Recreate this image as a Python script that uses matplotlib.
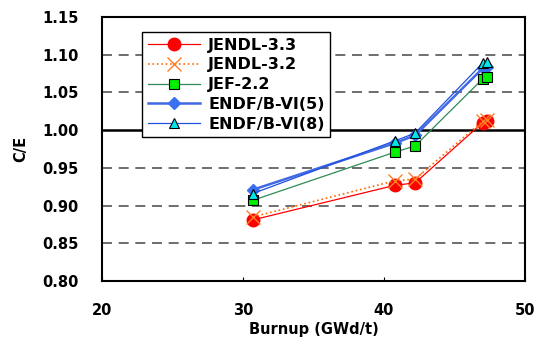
import matplotlib.pyplot as plt

burnup = [30.7, 40.8, 42.2, 47.0, 47.3]

jendl33 = [0.881, 0.927, 0.930, 1.010, 1.012]
jendl32 = [0.885, 0.933, 0.935, 1.012, 1.014]
jef22 = [0.907, 0.971, 0.979, 1.068, 1.070]
endf5 = [0.921, 0.983, 0.993, 1.082, 1.084]
endf8 = [0.916, 0.986, 0.996, 1.089, 1.090]

xticks = [20, 30, 40, 50]
yticks = [0.80, 0.85, 0.90, 0.95, 1.00, 1.05, 1.10, 1.15]

plt.rcParams['font.family'] = ['DejaVu Sans']
plt.rcParams['font.weight'] = 'bold'

fig = plt.figure(figsize=(5.37, 3.45), dpi=100)
ax = fig.add_axes([102 / 537, 1 - 281 / 345, 423 / 537, 264 / 345])

# grid lines (1.00 drawn solid)
for yv in yticks[1:-1]:
    if abs(yv - 1.0) < 1e-9:
        ax.axhline(yv, color='black', lw=1.8, zorder=1)
    else:
        ax.axhline(yv, color='#555555', lw=1.2, ls=(0, (6, 4)), zorder=1)
ax.axhline(1.15, color='#777777', lw=1.2, ls=(0, (6, 4)), zorder=1)

ax.plot(burnup, jendl33, color='red', lw=0.9, marker='o', ms=9,
        mfc='red', mec='red', label='JENDL-3.3', zorder=5)
ax.plot(burnup, jendl32, color='#ff6a00', lw=1.2, ls=':', marker='x', ms=10,
        mew=1.0, mec='#ff7f27', label='JENDL-3.2', zorder=6)
ax.plot(burnup, jef22, color='#2e8b57', lw=0.9, marker='s', ms=6.5,
        mfc='#00ee00', mec='black', mew=0.8, label='JEF-2.2', zorder=4)
ax.plot(burnup, endf5, color='#4169e1', lw=1.8, marker='D', ms=6.5,
        mfc='#3a6ff0', mec='#3a6ff0', label='ENDF/B-VI(5)', zorder=3)
ax.plot(burnup, endf8, color='#2050e0', lw=0.9, marker='^', ms=7,
        mfc='#00e5ee', mec='black', mew=0.8, label='ENDF/B-VI(8)', zorder=4)

ax.set_xlim(20, 50)
ax.set_ylim(0.80, 1.15)
ax.set_xticks(xticks)
ax.set_yticks(yticks)
ax.set_yticklabels(['%.2f' % v for v in yticks])
ax.tick_params(axis='both', direction='in', length=3, labelsize=10.5)
ax.tick_params(axis='x', pad=16)
ax.tick_params(axis='y', length=0, pad=17)
for s in ax.spines.values():
    s.set_linewidth(1.5)

ax.set_xlabel('Burnup (GWd/t)', fontsize=10.5, fontweight='bold', labelpad=3)
ax.set_ylabel('C/E', fontsize=10.5, fontweight='bold', labelpad=10)

leg = ax.legend(loc='upper left', bbox_to_anchor=(40 / 423, 1 - 15 / 264),
                fontsize=11.5, frameon=True, fancybox=False, edgecolor='black',
                framealpha=1, handlelength=3.3, borderpad=0.35, labelspacing=0.3,
                handletextpad=0.5, borderaxespad=0)
leg.get_frame().set_linewidth(1.0)

fig.savefig('out.png', dpi=100)
